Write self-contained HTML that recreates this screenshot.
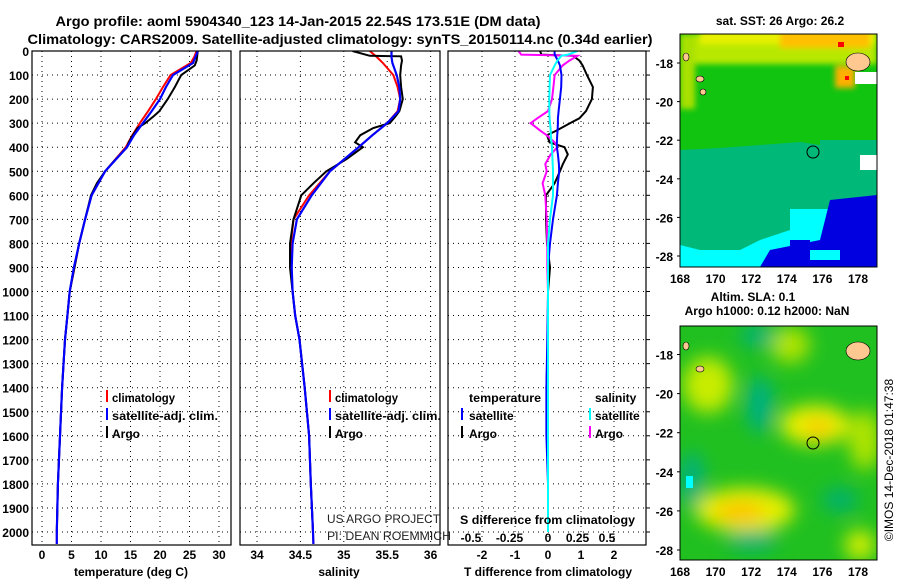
<!DOCTYPE html>
<html><head><meta charset="utf-8"><style>
html,body{margin:0;padding:0;background:#fff;}
svg{display:block;font-family:"Liberation Sans",Arial,sans-serif;}
.b{font-weight:bold;font-size:12px;}
.g{stroke:#000;stroke-width:1;stroke-dasharray:1,4;}
</style></head><body>
<svg id="chart" width="900" height="580" viewBox="0 0 900 580">
<defs>
<filter id="bl" x="-50%" y="-50%" width="200%" height="200%"><feGaussianBlur stdDeviation="9"/></filter>
<filter id="bl2" x="-50%" y="-50%" width="200%" height="200%"><feGaussianBlur stdDeviation="3"/></filter>
<clipPath id="c1"><rect x="680" y="34" width="197" height="233"/></clipPath>
<clipPath id="c2"><rect x="680" y="326" width="197" height="234"/></clipPath>
<clipPath id="pc1"><rect x="32" y="51" width="199" height="494"/></clipPath>
<clipPath id="pc2"><rect x="240" y="51" width="200" height="494"/></clipPath>
<clipPath id="pc3"><rect x="448" y="51" width="198" height="494"/></clipPath>
</defs>
<text x="298" y="26" text-anchor="middle" class="b" style="font-size:14px" textLength="485" lengthAdjust="spacingAndGlyphs">Argo profile: aoml 5904340_123 14-Jan-2015 22.54S 173.51E (DM data)</text>
<text x="340" y="44" text-anchor="middle" class="b" style="font-size:14px" textLength="625" lengthAdjust="spacingAndGlyphs">Climatology: CARS2009. Satellite-adjusted climatology: synTS_20150114.nc (0.34d earlier)</text>
<g id="grid"></g>
<g id="lines"></g>
<g id="axes"></g>

<g class="b">
<rect x="106" y="390" width="2" height="12" fill="#f00"/><text x="112" y="402" textLength="63" lengthAdjust="spacingAndGlyphs">climatology</text>
<rect x="106" y="408" width="2" height="12" fill="#00f"/><text x="112" y="420" textLength="106" lengthAdjust="spacingAndGlyphs">satellite-adj. clim.</text>
<rect x="106" y="426" width="2" height="12" fill="#000"/><text x="112" y="438">Argo</text>
</g>
<g class="b">
<rect x="329" y="390" width="2" height="12" fill="#f00"/><text x="335" y="402" textLength="63" lengthAdjust="spacingAndGlyphs">climatology</text>
<rect x="329" y="408" width="2" height="12" fill="#00f"/><text x="335" y="420" textLength="106" lengthAdjust="spacingAndGlyphs">satellite-adj. clim.</text>
<rect x="329" y="426" width="2" height="12" fill="#000"/><text x="335" y="438">Argo</text>
</g>
<g class="b">
<text x="469" y="402" textLength="72" lengthAdjust="spacingAndGlyphs">temperature</text>
<rect x="461" y="408" width="2" height="12" fill="#00f"/><text x="469" y="420">satellite</text>
<rect x="461" y="426" width="2" height="12" fill="#000"/><text x="469" y="438">Argo</text>
<text x="595" y="402">salinity</text>
<rect x="589" y="408" width="2" height="12" fill="#0ff"/><text x="595" y="420">satellite</text>
<rect x="589" y="426" width="2" height="12" fill="#f0f"/><text x="595" y="438">Argo</text>
</g>
<g font-size="12" fill="#222">
<text x="327" y="523" textLength="113" lengthAdjust="spacingAndGlyphs">US ARGO PROJECT</text>
<text x="327" y="540" textLength="124" lengthAdjust="spacingAndGlyphs">PI: DEAN ROEMMICH</text>
</g>
<text x="460" y="524" class="b" textLength="175" lengthAdjust="spacingAndGlyphs">S difference from climatology</text>

<text x="131" y="576" text-anchor="middle" class="b">temperature (deg C)</text>
<text x="339" y="576" text-anchor="middle" class="b">salinity</text>
<text x="548" y="576" text-anchor="middle" class="b">T difference from climatology</text>

<g>
<text x="780" y="25" text-anchor="middle" class="b">sat. SST: 26 Argo: 26.2</text>
<g clip-path="url(#c1)">
<rect x="680" y="34" width="197" height="233" fill="#00ffff"/>
<rect x="680" y="34" width="197" height="175" fill="#00b878"/>
<path d="M680 205 L790 205 L790 230 L760 240 L740 250 L700 250 L680 245 Z" fill="#00b878"/>
<path d="M680 34 H877 V150 L840 148 L800 142 L760 145 L720 148 L680 150 Z" fill="#10c410"/>
<rect x="820" y="140" width="57" height="40" fill="#00b878"/>
<g filter="url(#bl2)">
<rect x="680" y="34" width="197" height="30" fill="#b8e800"/>
<rect x="680" y="34" width="15" height="75" fill="#a8e000"/>
<rect x="700" y="30" width="177" height="14" fill="#e8f000"/>
<rect x="780" y="30" width="90" height="18" fill="#ffc000"/>
<rect x="835" y="66" width="20" height="22" fill="#ffb000"/>
</g>
<rect x="838" y="42" width="6" height="5" fill="#f00"/>
<rect x="845" y="76" width="4" height="4" fill="#f00"/>
<rect x="860" y="155" width="17" height="15" fill="#fff"/>
<rect x="855" y="72" width="22" height="12" fill="#fff"/>
<path d="M830 200 L877 195 L877 267 L760 267 L770 250 L820 240 Z" fill="#0000e0"/>
<rect x="790" y="240" width="20" height="8" fill="#0000e0"/>
<rect x="810" y="250" width="30" height="10" fill="#00ffff"/>
<ellipse cx="858" cy="62" rx="12" ry="9" fill="#ffc890" stroke="#000" stroke-width="0.6"/>
<ellipse cx="700" cy="79" rx="4" ry="3" fill="#ffc890" stroke="#000" stroke-width="0.6"/>
<ellipse cx="703" cy="92" rx="3" ry="3" fill="#ffc890" stroke="#000" stroke-width="0.6"/>
<ellipse cx="686" cy="57" rx="3" ry="4" fill="#ffc890" stroke="#000" stroke-width="0.6"/>
</g>
<rect x="680" y="34" width="197" height="233" fill="none" stroke="#000"/>
<circle cx="813" cy="152" r="6" fill="none" stroke="#000"/>
</g>

<g>
<text x="753" y="301" text-anchor="middle" class="b">Altim. SLA: 0.1</text>
<text x="767" y="315" text-anchor="middle" class="b">Argo h1000: 0.12 h2000: NaN</text>
<g clip-path="url(#c2)">
<rect x="680" y="326" width="197" height="234" fill="#20c020"/>
<g filter="url(#bl)">
<ellipse cx="745" cy="510" rx="50" ry="22" fill="#e8f000"/>
<ellipse cx="740" cy="512" rx="25" ry="10" fill="#ffc000"/>
<ellipse cx="815" cy="425" rx="35" ry="20" fill="#e8f000"/>
<ellipse cx="818" cy="428" rx="14" ry="8" fill="#ffc000"/>
<ellipse cx="708" cy="385" rx="25" ry="28" fill="#c8ec00"/>
<ellipse cx="790" cy="345" rx="20" ry="18" fill="#b0e400"/>
<ellipse cx="865" cy="440" rx="16" ry="30" fill="#b0e400"/>
<ellipse cx="860" cy="545" rx="15" ry="15" fill="#d8f000"/>
<ellipse cx="760" cy="405" rx="14" ry="28" fill="#00b080"/>
<ellipse cx="758" cy="336" rx="18" ry="10" fill="#00b080"/>
<ellipse cx="692" cy="480" rx="12" ry="28" fill="#00b080"/>
<ellipse cx="752" cy="540" rx="25" ry="10" fill="#00b080"/>
<ellipse cx="840" cy="500" rx="18" ry="12" fill="#00b070"/>
</g>
<rect x="686" y="476" width="7" height="12" fill="#0ff"/>
<ellipse cx="858" cy="351" rx="12" ry="9" fill="#ffc890" stroke="#000" stroke-width="0.6"/>
<ellipse cx="700" cy="369" rx="4" ry="3" fill="#ffc890" stroke="#000" stroke-width="0.6"/>
<ellipse cx="686" cy="346" rx="3" ry="4" fill="#ffc890" stroke="#000" stroke-width="0.6"/>
</g>
<rect x="680" y="326" width="197" height="234" fill="none" stroke="#000"/>
<circle cx="813" cy="443" r="6" fill="none" stroke="#000"/>
</g>
<text transform="translate(893,460) rotate(-90)" text-anchor="middle" font-size="12">©IMOS 14-Dec-2018 01:47:38</text>
</svg>
<script>
const depthTicks=[0,100,200,300,400,500,600,700,800,900,1000,1100,1200,1300,1400,1500,1600,1700,1800,1900,2000];
const tempTicks=[0,5,10,15,20,25,30];
const salTicks=[34,34.5,35,35.5,36];
const tdiffTicks=[-2,-1,0,1,2];
const sdiffTicks=[-0.5,-0.25,0,0.25,0.5];
const sdiffLabels=["-0.5","-0.25","0","0.25","0.5"];

const depthA=[0,25,50,100,150,200,250,300,350,400,500,600,700,800,900,1000,1100,1200,1400,1600,1800,2000,2050];
const tempClim=[26.2,25.8,25.2,21.8,20.5,19.3,18.0,16.6,15.3,14.2,10.7,8.4,7.3,6.3,5.5,4.7,4.3,3.9,3.4,3.05,2.7,2.5,2.5];
const tempSat=[26.4,26.0,25.6,22.2,21.0,20.0,18.6,17.1,15.6,14.4,10.7,8.4,7.3,6.3,5.4,4.7,4.3,3.9,3.4,3.05,2.7,2.5,2.5];
const salClim=[35.3,35.38,35.45,35.57,35.62,35.65,35.62,35.5,35.33,35.17,34.84,34.6,34.42,34.39,34.39,34.41,34.44,34.49,34.55,34.6,34.62,34.645,34.65];
const salSat=[35.55,35.55,35.56,35.61,35.64,35.65,35.63,35.5,35.33,35.17,34.84,34.63,34.46,34.41,34.4,34.41,34.44,34.49,34.55,34.6,34.62,34.645,34.65];

const depthB=[0,20,22,40,60,100,150,200,250,270,300,320,350,380,400,450,500,550,600,700,800,900,1000,1100,1200,1400,1600,1800,2000];
const tempArgo=[26.4,26.3,26.3,26.2,25.9,23.6,22.5,21.3,19.9,19.0,17.5,16.2,15.4,14.7,14.4,12.5,10.7,9.3,8.3,7.3,6.3,5.5,4.7,4.3,3.9,3.4,3.05,2.7,2.5];
const salArgo=[35.1,35.3,35.66,35.67,35.66,35.65,35.66,35.68,35.64,35.6,35.53,35.34,35.19,35.13,35.22,35.03,34.8,34.65,34.51,34.42,34.38,34.38,34.41,34.44,34.49,34.55,34.6,34.62,34.645];

const depthC=[0,15,20,40,60,100,150,200,250,280,300,330,350,380,400,430,470,500,550,600,700,800,900,1000,1200,1400,1600,1800,2000];
const tdiffSat=[0.2,0.2,0.22,0.3,0.36,0.41,0.4,0.36,0.32,0.3,0.3,0.29,0.28,0.27,0.27,0.3,0.33,0.34,0.3,0.27,0.15,0.06,0.0,0.0,-0.02,-0.05,-0.05,0.0,0.0];
const tdiffArgo=[-0.24,-0.2,0.76,0.95,1.05,1.18,1.36,1.33,1.15,0.95,0.67,0.27,-0.03,0.05,0.5,0.6,0.45,0.36,0.2,-0.06,-0.06,-0.03,0.06,0.0,0.0,-0.05,0.0,0.0,0.0];
const sdiffSat=[0.22,0.15,0.1,0.07,0.05,0.015,0.012,0.01,0.01,0.012,0.015,0.02,0.022,0.025,0.03,0.032,0.035,0.037,0.037,0.037,0.015,0.0,0.0,0.0,0.0,0.0,0.0,0.0,0.0];
const sdiffArgo=[-0.22,-0.2,0.22,0.16,0.11,0.05,0.04,0.03,0.0,-0.08,-0.13,-0.06,-0.01,0.05,0.07,0.02,-0.02,-0.01,-0.04,-0.02,-0.01,-0.005,-0.005,0.0,0.0,-0.01,0.0,0.0,0.0];

const yD=d=>51+d*0.2405;
const xT=t=>42+t*5.9;
const xS=s=>257+(s-34)*86.8;
const xTd=v=>548+v*33;
const xSd=v=>548+v*134;
const xSdLab=v=>548+v*(v<0?154:118);
const NS='http://www.w3.org/2000/svg';
const mk=(tag,parent,attrs)=>{const e=document.createElementNS(NS,tag);for(const k in attrs)e.setAttribute(k,attrs[k]);parent.appendChild(e);return e;};
const G=document.getElementById('grid'),L=document.getElementById('lines'),A=document.getElementById('axes');
const panels=[{x0:32,x1:231,xs:xT,ticks:tempTicks,n:'temperature'},{x0:240,x1:440,xs:xS,ticks:salTicks,n:'salinity'},{x0:448,x1:646,xs:xTd,ticks:tdiffTicks,n:'tdiff'}];
panels.forEach((p,i)=>{
  depthTicks.forEach(d=>{
    const ln=mk('line',G,{x1:p.x0,x2:p.x1,y1:yD(d),y2:yD(d),class:'g'});
    
    
  });
  p.ticks.forEach((t,j)=>{
    const ln=mk('line',G,{x1:p.xs(t),x2:p.xs(t),y1:51,y2:545,class:'g'});
    
    
    const lab=mk('text',A,{x:p.xs(t),y:559,'text-anchor':'middle',class:'b'});
    lab.textContent=String(t);
    
    
  });
  const fr=mk('rect',A,{x:p.x0,y:51,width:p.x1-p.x0,height:494,fill:'none',stroke:'#000','stroke-width':1.2});
  
  
});
depthTicks.forEach(d=>{
  const lab=mk('text',A,{x:29,y:yD(d)+5,'text-anchor':'end',class:'b'});
  lab.textContent=String(d);
  
  
  mk('line',A,{x1:646,x2:650,y1:yD(d),y2:yD(d),stroke:'#000'});
});
sdiffTicks.forEach((v,j)=>{
  const lab=mk('text',A,{x:xSdLab(v),y:542,'text-anchor':'middle',class:'b'});
  lab.textContent=sdiffLabels[j];
  
  
});
function series(xs,vals,depths,col,w,clip,name){
  const d=vals.map((v,i)=>(i?'L':'M')+xs(v).toFixed(1)+' '+yD(depths[i]).toFixed(1)).join(' ');
  const p=mk('path',L,{d:d,fill:'none',stroke:col,'stroke-width':w,'clip-path':'url(#'+clip+')'});
  
  
}
series(xT,tempClim,depthA,'#f00',2,'pc1','temperature-climatology-line');
series(xT,tempArgo,depthB,'#000',2,'pc1','temperature-argo-line');
series(xT,tempSat,depthA,'#00f',2.2,'pc1','temperature-satellite-line');
series(xS,salClim,depthA,'#f00',2,'pc2','salinity-climatology-line');
series(xS,salArgo,depthB,'#000',2,'pc2','salinity-argo-line');
series(xS,salSat,depthA,'#00f',2.2,'pc2','salinity-satellite-line');
series(xTd,tdiffArgo,depthC,'#000',2,'pc3','tdiff-argo-line');
series(xSd,sdiffArgo,depthC,'#f0f',2,'pc3','sdiff-argo-line');
series(xTd,tdiffSat,depthC,'#00f',2,'pc3','tdiff-satellite-line');
series(xSd,sdiffSat,depthC,'#0ff',2,'pc3','sdiff-satellite-line');
const lats=[-18,-20,-22,-24,-26,-28], lons=[168,170,172,174,176,178];
[[63,256,34,267],[354.5,550,326,560]].forEach((m,k)=>{
  lats.forEach((la,i)=>{
    const y=m[0]+(la+18)/-10*(m[1]-m[0]);
    const t=mk('text',A,{x:673,y:y+5,'text-anchor':'end',class:'b'});
    t.textContent=String(la);
    
    
    mk('line',A,{x1:677,x2:680,y1:y,y2:y,stroke:'#000'});
  });
  lons.forEach(lo=>{
    const x=680+(lo-168)*17.8;
    const t=mk('text',A,{x:x,y:m[3]+16,'text-anchor':'middle',class:'b'});
    t.textContent=String(lo);
    
    
  });
});
</script>
</body></html>
